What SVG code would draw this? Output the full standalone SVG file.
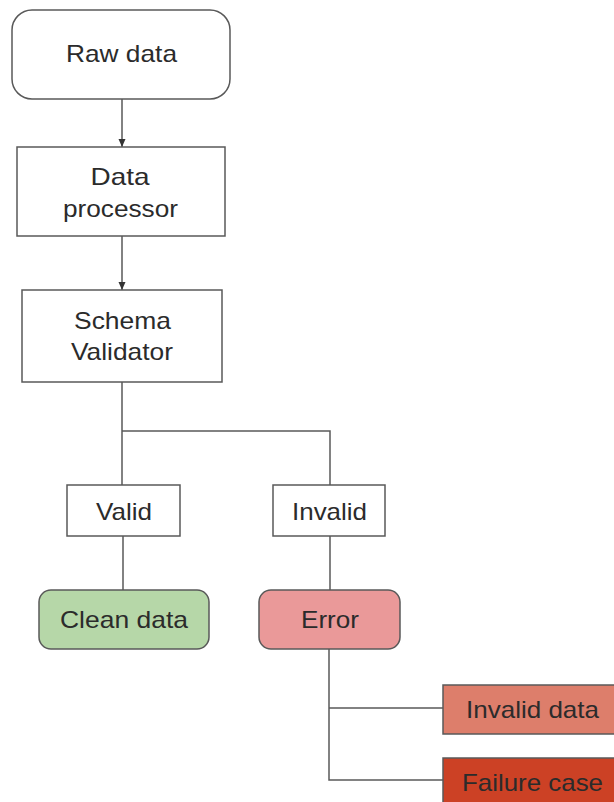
<svg xmlns="http://www.w3.org/2000/svg" width="614" height="802" viewBox="0 0 614 802">
<style>
.box{stroke:#595959;stroke-width:1.5}
.t{font-family:"Liberation Sans",Arial,sans-serif;font-size:24px;fill:#2b2b2b;text-anchor:middle}
.c{fill:none;stroke:#595959;stroke-width:1.5}
</style>
<defs>
<marker id="ah" viewBox="0 0 8 8" refX="8" refY="4" markerWidth="8" markerHeight="8" markerUnits="userSpaceOnUse" orient="auto">
<path d="M0,0.5 L8,4 L0,7.5 Z" fill="#333"/>
</marker>
</defs>
<rect width="614" height="802" fill="#fff"/>
<g id="connectors">
<line class="c" x1="122" y1="99" x2="122" y2="147" marker-end="url(#ah)"/>
<line class="c" x1="122" y1="236" x2="122" y2="290" marker-end="url(#ah)"/>
<path class="c" d="M122,382 V485 M122,431 H330 V485"/>
<line class="c" x1="123" y1="536" x2="123" y2="590"/>
<line class="c" x1="330" y1="536" x2="330" y2="590"/>
<path class="c" d="M329,649 V780 H443 M329,708 H443"/>
</g>
<g id="raw-data"><rect class="box" x="12" y="10" width="218" height="89" rx="20" fill="#fff"/><text class="t" x="121.5" y="62" textLength="111" lengthAdjust="spacingAndGlyphs">Raw data</text></g>
<g id="data-processor"><rect class="box" x="17" y="147" width="208" height="89" fill="#fff"/><text class="t" x="120" y="185" textLength="59" lengthAdjust="spacingAndGlyphs">Data</text><text class="t" x="120.5" y="217" textLength="115" lengthAdjust="spacingAndGlyphs">processor</text></g>
<g id="schema-validator"><rect class="box" x="22" y="290" width="200" height="92" fill="#fff"/><text class="t" x="122.5" y="329" textLength="97" lengthAdjust="spacingAndGlyphs">Schema</text><text class="t" x="122" y="360" textLength="102" lengthAdjust="spacingAndGlyphs">Validator</text></g>
<g id="valid"><rect class="box" x="67" y="485" width="113" height="51" fill="#fff"/><text class="t" x="124" y="520" textLength="56" lengthAdjust="spacingAndGlyphs">Valid</text></g>
<g id="invalid"><rect class="box" x="273" y="485" width="112" height="51" fill="#fff"/><text class="t" x="329.5" y="520" textLength="75" lengthAdjust="spacingAndGlyphs">Invalid</text></g>
<g id="clean-data"><rect class="box" x="39" y="590" width="170" height="59" rx="12" fill="#b6d7a8"/><text class="t" x="124" y="628" textLength="128" lengthAdjust="spacingAndGlyphs">Clean data</text></g>
<g id="error"><rect class="box" x="259" y="590" width="141" height="59" rx="12" fill="#ea9999"/><text class="t" x="330" y="628" textLength="58" lengthAdjust="spacingAndGlyphs">Error</text></g>
<g id="invalid-data"><rect class="box" x="443" y="685" width="180" height="49" fill="#dd7e6b"/><text class="t" x="532.5" y="718" textLength="133" lengthAdjust="spacingAndGlyphs">Invalid data</text></g>
<g id="failure-case"><rect class="box" x="443" y="758" width="180" height="60" fill="#cc4125"/><text class="t" x="532.5" y="791" textLength="141" lengthAdjust="spacingAndGlyphs">Failure case</text></g>
</svg>
